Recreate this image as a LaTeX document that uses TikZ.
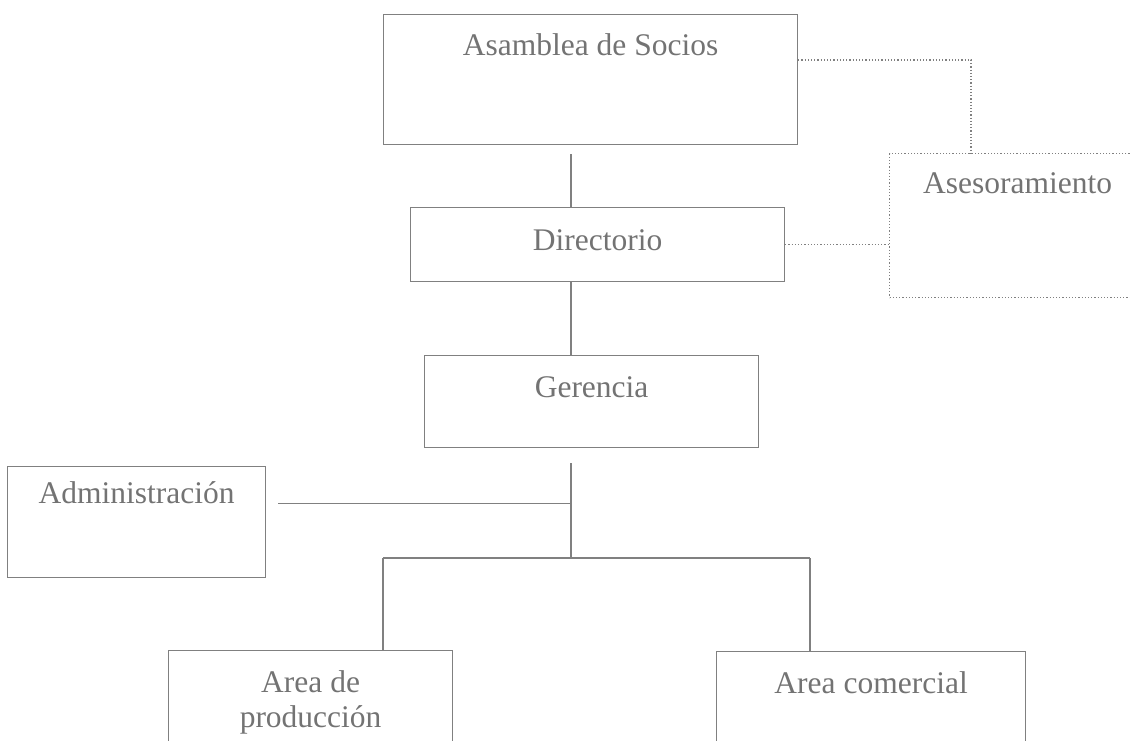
\documentclass[tikz,border=0pt]{standalone}
\usepackage{fontspec}
\setmainfont{Liberation Serif}
\usepackage{xcolor}
\usetikzlibrary{positioning,calc}
\definecolor{linegray}{gray}{0.5}
\definecolor{textgray}{gray}{0.45}
\tikzset{every picture/.style={font issue=\fontsize{31.5}{35}},
         font issue/.style={execute at begin picture={#1\selectfont}}
        }
\tikzset{
  orgbox/.style={draw=linegray, line width=1.2pt, inner sep=0pt, anchor=north west,
                 align=center, text=textgray},
  advisorbox/.style={orgbox, dotted},
  solidlink/.style={draw=linegray, line width=1.2pt},
  dotlink/.style={draw=linegray, line width=1.2pt, dotted}
}
\begin{document}
\begin{tikzpicture}[x=1pt,y=-1pt]
\useasboundingbox (0,0) rectangle (1130,741);
\clip (0,0) rectangle (1130,741);
\node[orgbox, minimum width=414pt, text height=41pt, text depth=89pt] at (383,14)(asamblea){Asamblea de Socios};
\node[orgbox, minimum width=374pt, text height=43pt, text depth=31pt] at (410,207)(directorio){Directorio};
\node[orgbox, minimum width=334pt, text height=42pt, text depth=50pt] at (424,355)(gerencia){Gerencia};
\node[advisorbox, minimum width=256pt, text height=40pt, text depth=104pt] at (889,153)(asesoramiento){Asesoramiento};
\node[orgbox, minimum width=258pt, text height=37pt, text depth=74pt] at (7,466)(admin){Administración};
\node[orgbox, minimum width=284pt, text height=77pt, text depth=53pt] at (168,650)(produccion){Area de\\producción};
\node[orgbox, minimum width=309pt, text height=42pt, text depth=88pt] at (716,651)(comercial){Area comercial};
\coordinate (trunk) at (571,558);
\coordinate (leftdrop) at (383,558);
\coordinate (rightdrop) at (810,558);
\coordinate (advisor) at (971,60);
% main line
\draw[solidlink] ($(asamblea.south -| trunk)+(0,9)$) -- (directorio.north -| trunk);
\draw[solidlink] (directorio.south -| trunk) -- (gerencia.north -| trunk);
\draw[solidlink] ($(gerencia.south -| trunk)+(0,15)$) -- (trunk);
\draw[solidlink] ($(admin.base east)+(12,0)$) -- (admin.base east -| trunk);
\draw[solidlink] (leftdrop) -- (rightdrop);
\draw[solidlink] (leftdrop) -- (leftdrop |- produccion.north);
\draw[solidlink] (rightdrop) -- (rightdrop |- comercial.north);
% advice
\draw[dotlink] (advisor -| asamblea.east) -- (advisor) -- (advisor |- asesoramiento.north);
\draw[dotlink] (directorio.east) -- (directorio.east -| asesoramiento.west);
\end{tikzpicture}
\end{document}
